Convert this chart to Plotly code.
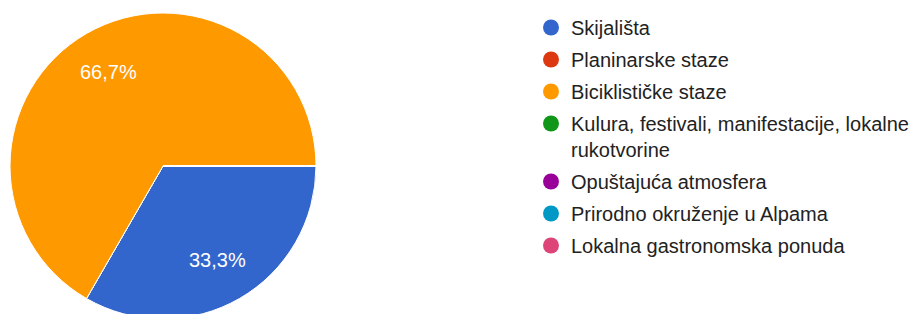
import math
import plotly.graph_objects as go

categories = [
    "Skijališta",
    "Planinarske staze",
    "Biciklističke staze",
    "Kulura, festivali, manifestacije, lokalne<br>rukotvorine",
    "Opuštajuća atmosfera",
    "Prirodno okruženje u Alpama",
    "Lokalna gastronomska ponuda",
]
values = [1, 0, 2, 0, 0, 0, 0]
colors = ["#3366cc", "#dc3912", "#ff9900", "#109618", "#990099", "#0099c6", "#dd4477"]

W, H = 918, 330  # page body has an 8px margin; bottom of pie is clipped by the window
ROT = 90  # first slice starts at 3 o'clock, going clockwise

# pie geometry in figure pixels
cx, cy, R = 155, 158, 153
dom_x = [(cx - R) / W, (cx + R) / W]
dom_y = [(H - (cy + R)) / H, (H - (cy - R)) / H]

fig = go.Figure()
fig.add_trace(go.Pie(
    labels=categories,
    values=values,
    sort=False,
    direction="clockwise",
    rotation=ROT,
    marker=dict(colors=colors, line=dict(color="white", width=1)),
    textinfo="none",
    showlegend=False,
    hoverinfo="label+percent",
    domain=dict(x=dom_x, y=dom_y),
))

# percentage labels placed at each slice's mid-angle, ~0.71 of the radius
total = sum(values)
cum = 0.0
annotations = []
for v in values:
    if v > 0:
        mid = ROT + (cum + v / 2) / total * 360  # degrees clockwise from 12 o'clock
        a = math.radians(mid)
        dx = 0.71 * R * math.sin(a)
        dy = 0.71 * R * math.cos(a)
        annotations.append(dict(
            x=(cx + dx) / W, y=(H - cy + dy) / H, xref="paper", yref="paper",
            text=f"{v / total * 100:.1f}%".replace(".", ","),
            showarrow=False, xanchor="center", yanchor="middle",
            font=dict(color="white", size=20, family="Liberation Sans, Arial, sans-serif"),
        ))
    cum += v

for i, (name, col) in enumerate(zip(categories, colors)):
    fig.add_trace(go.Scatter(
        x=[None], y=[None], mode="markers", name=name,
        legendgroup=f"g{i}",
        marker=dict(symbol="circle", size=20, color=col),
        showlegend=True,
    ))

fig.update_layout(
    width=W, height=H,
    margin=dict(l=0, r=0, t=0, b=0),
    paper_bgcolor="white", plot_bgcolor="white",
    separators=",.",
    annotations=annotations,
    xaxis=dict(visible=False), yaxis=dict(visible=False),
    legend=dict(
        x=523 / W, y=1.0, xanchor="left", yanchor="top",
        maxheight=600,
        font=dict(size=20, color="#222222", family="Liberation Sans, Arial, sans-serif"),
        itemsizing="trace", tracegroupgap=3, valign="top",
        bgcolor="rgba(0,0,0,0)",
    ),
)

fig.write_html("out.html")
